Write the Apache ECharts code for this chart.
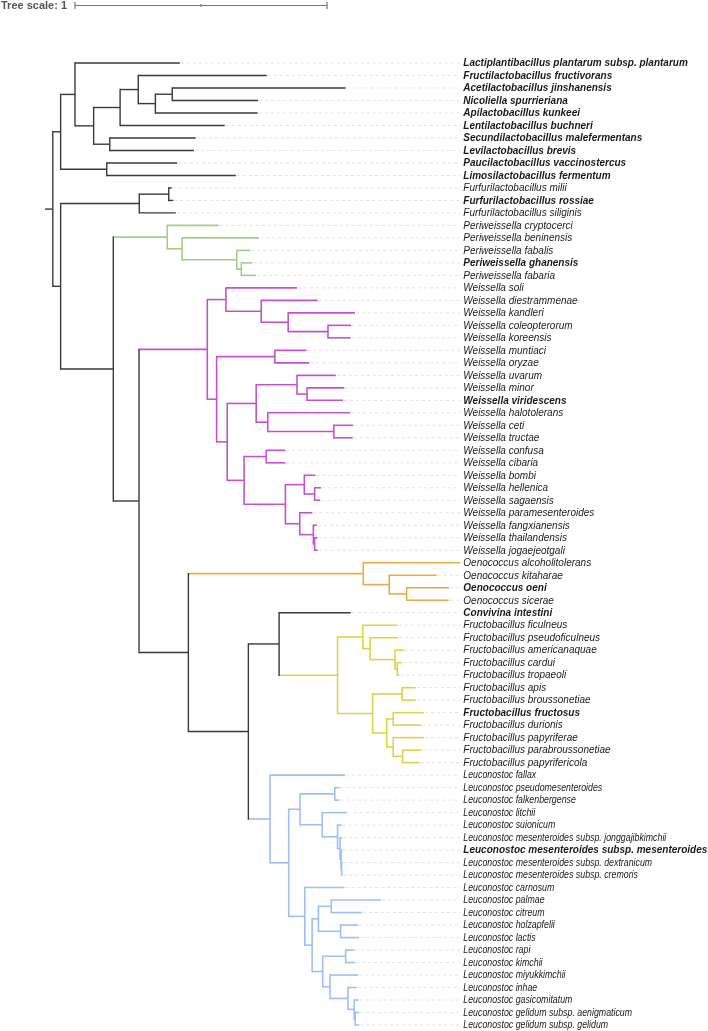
<!DOCTYPE html>
<html><head><meta charset="utf-8">
<script src="https://cdn.jsdelivr.net/npm/echarts@6/dist/echarts.min.js"></script>
<style>html,body{margin:0;padding:0;background:#fff}#c{width:708px;height:1031px}</style>
</head><body><div id="c"></div>
<script>
// ---------- data ----------
const taxa = [
 'Lactiplantibacillus plantarum subsp. plantarum','Fructilactobacillus fructivorans','Acetilactobacillus jinshanensis',
 'Nicoliella spurrieriana','Apilactobacillus kunkeei','Lentilactobacillus buchneri','Secundilactobacillus malefermentans',
 'Levilactobacillus brevis','Paucilactobacillus vaccinostercus','Limosilactobacillus fermentum','Furfurilactobacillus milii',
 'Furfurilactobacillus rossiae','Furfurilactobacillus siliginis','Periweissella cryptocerci','Periweissella beninensis',
 'Periweissella fabalis','Periweissella ghanensis','Periweissella fabaria','Weissella soli','Weissella diestrammenae',
 'Weissella kandleri','Weissella coleopterorum','Weissella koreensis','Weissella muntiaci','Weissella oryzae',
 'Weissella uvarum','Weissella minor','Weissella viridescens','Weissella halotolerans','Weissella ceti','Weissella tructae',
 'Weissella confusa','Weissella cibaria','Weissella bombi','Weissella hellenica','Weissella sagaensis',
 'Weissella paramesenteroides','Weissella fangxianensis','Weissella thailandensis','Weissella jogaejeotgali',
 'Oenococcus alcoholitolerans','Oenococcus kitaharae','Oenococcus oeni','Oenococcus sicerae','Convivina intestini',
 'Fructobacillus ficulneus','Fructobacillus pseudoficulneus','Fructobacillus americanaquae','Fructobacillus cardui',
 'Fructobacillus tropaeoli','Fructobacillus apis','Fructobacillus broussonetiae','Fructobacillus fructosus',
 'Fructobacillus durionis','Fructobacillus papyriferae','Fructobacillus parabroussonetiae','Fructobacillus papyrifericola',
 'Leuconostoc fallax','Leuconostoc pseudomesenteroides','Leuconostoc falkenbergense','Leuconostoc litchii',
 'Leuconostoc suionicum','Leuconostoc mesenteroides subsp. jonggajibkimchii','Leuconostoc mesenteroides subsp. mesenteroides',
 'Leuconostoc mesenteroides subsp. dextranicum','Leuconostoc mesenteroides subsp. cremoris','Leuconostoc carnosum',
 'Leuconostoc palmae','Leuconostoc citreum','Leuconostoc holzapfelii','Leuconostoc lactis','Leuconostoc rapi',
 'Leuconostoc kimchii','Leuconostoc miyukkimchii','Leuconostoc inhae','Leuconostoc gasicomitatum',
 'Leuconostoc gelidum subsp. aenigmaticum','Leuconostoc gelidum subsp. gelidum'
];
const boldTaxa = [
 'Lactiplantibacillus plantarum subsp. plantarum','Fructilactobacillus fructivorans','Acetilactobacillus jinshanensis',
 'Nicoliella spurrieriana','Apilactobacillus kunkeei','Lentilactobacillus buchneri','Secundilactobacillus malefermentans',
 'Levilactobacillus brevis','Paucilactobacillus vaccinostercus','Limosilactobacillus fermentum','Furfurilactobacillus rossiae',
 'Periweissella ghanensis','Weissella viridescens','Oenococcus oeni','Convivina intestini','Fructobacillus fructosus',
 'Leuconostoc mesenteroides subsp. mesenteroides'
];
// tip depth (distance from the root stub origin, tree units)
const tipDepth = [
 0.535,0.880,1.193,0.845,0.844,0.713,0.598,0.591,0.524,0.757,
 0.503,0.509,0.519,0.689,0.849,0.815,0.823,0.837,1.000,1.082,
 1.230,1.215,1.213,1.037,1.049,1.154,1.188,1.183,1.210,1.223,
 1.221,0.954,0.954,1.073,1.095,1.092,1.061,1.079,1.081,1.082,
 1.647,1.554,1.604,1.603,1.213,1.400,1.402,1.425,1.415,1.406,
 1.471,1.471,1.504,1.492,1.504,1.495,1.485,1.190,1.168,1.168,
 1.197,1.177,1.179,1.180,1.180,1.180,1.188,1.333,1.257,1.243,
 1.247,1.227,1.230,1.243,1.237,1.245,1.247,1.247
];
// internal nodes: [id, depth, child, child, colour group]  (number child = taxon index)
const clades = [
 ['root',0.031,'A','M',null],
 ['A',0.062,'A1','A2',null],['A1',0.119,0,'A1b',null],['A1b',0.193,'A1c','A1d',null],
 ['A1c',0.298,'A1e',5,null],['A1e',0.370,1,'A1f',null],['A1f',0.438,'A1g',4,null],['A1g',0.505,2,3,null],
 ['A1d',0.257,6,7,null],['A2',0.245,8,9,null],
 ['M',0.062,'FF','B',null],['FF',0.374,'FF1',12,null],['FF1',0.491,10,11,null],
 ['B',0.271,'P','C',null],
 ['P',0.485,13,'P1','green'],['P1',0.544,14,'P2',null],['P2',0.761,15,'P3',null],['P3',0.779,16,17,null],
 ['C',0.373,'W','D',null],
 ['W',0.644,'W1','W2','purple'],['W1',0.718,18,'W1a',null],['W1a',0.858,19,'W1b',null],['W1b',0.965,20,'W1c',null],
 ['W1c',1.123,21,22,null],['W2',0.681,'W2a','W2b',null],['W2a',0.912,23,24,null],['W2b',0.723,'W3','W4',null],
 ['W3',0.838,'W3a','W3b',null],['W3a',1.000,25,'W3c',null],['W3c',1.040,26,27,null],['W3b',0.884,28,'W3d',null],
 ['W3d',1.146,29,30,null],['W4',0.790,'W4a','W4b',null],['W4a',0.878,31,32,null],['W4b',0.954,'W5','W6',null],
 ['W5',1.029,33,'W5a',null],['W5a',1.070,34,35,null],['W6',1.011,36,'W6a',null],['W6a',1.065,37,'W6b',null],
 ['W6b',1.070,38,39,null],
 ['D',0.569,'O','E',null],
 ['O',1.263,40,'O1','orange'],['O1',1.366,41,'O2',null],['O2',1.435,42,43,null],
 ['E',0.807,'E1','L',null],['E1',0.929,44,'F',null],
 ['F',1.161,'F1','F2','yellow'],['F1',1.261,45,'F1a',null],['F1a',1.290,46,'F1b',null],['F1b',1.389,47,'F1c',null],
 ['F1c',1.398,48,49,null],['F2',1.300,'F2a','F2b',null],['F2a',1.417,50,51,null],['F2b',1.356,'F2c','F2d',null],
 ['F2c',1.382,52,53,null],['F2d',1.382,54,'F2e',null],['F2e',1.419,55,56,null],
 ['L',0.893,57,'L1','blue'],['L1',0.967,'L2','L5',null],['L2',1.012,'L2a','L2b',null],['L2a',1.150,58,59,null],
 ['L2b',1.100,60,'L3',null],['L3',1.161,61,'L4',null],['L4',1.171,62,'L4a',null],['L4a',1.175,63,'L4b',null],
 ['L4b',1.177,64,65,null],['L5',1.031,66,'L6',null],['L6',1.060,'L7','L8',null],['L7',1.085,'L7a','L7b',null],
 ['L7a',1.136,67,68,null],['L7b',1.173,69,70,null],['L8',1.102,'L8a','L8b',null],['L8a',1.193,71,72,null],
 ['L8b',1.131,73,'L8c',null],['L8c',1.202,74,'L8d',null],['L8d',1.227,75,'L8e',null],['L8e',1.231,76,77,null]
];
const groupColors = {black:'#3a3a3a', green:'#a3cd86', purple:'#c452cf', orange:'#eaac46', yellow:'#d8d54a', blue:'#9fbdf7'};
const scaleBar = {start: 0.119, length: 1, label: 'Tree scale: 1'};
const labelDepth = 1.66;

// ---------- build segments ----------
const cladeMap = {};
clades.forEach(c => cladeMap[c[0]] = c);
const segs = [];   // [x1,y1,x2,y2,colorKey]
const tips = [];   // [tipX, index]
const tipGroup = {};
function walk(node, parentX, colorKey) {
  if (typeof node === 'number') {
    const x = tipDepth[node];
    segs.push([parentX, node, x, node, colorKey]);
    tips.push([x, node]);
    tipGroup[node] = colorKey;
    return node;
  }
  const c = cladeMap[node];
  const col = c[4] || colorKey;
  const x = c[1];
  const y1 = walk(c[2], x, col);
  const y2 = walk(c[3], x, col);
  const y = (y1 + y2) / 2;
  segs.push([x, y1, x, y2, col]);
  segs.push([parentX, y, x, y, col]);
  return y;
}
walk('root', 0, 'black');

const chart = echarts.init(document.getElementById('c'), null, {renderer: 'canvas'});
chart.setOption({
  animation: false,
  grid: {left: 45, top: 63, width: 630, height: 962},
  xAxis: {type: 'value', min: 0, max: 2.5, show: false},
  yAxis: {type: 'value', min: 0, max: taxa.length - 1, inverse: true, show: false},
  series: [
    {
      type: 'custom', data: tips, clip: false, silent: true,
      renderItem: (params, api) => {
        const i = api.value(1);
        const p0 = api.coord([api.value(0), i]);
        const pl = api.coord([labelDepth, i]);
        const name = taxa[i];
        const bold = boldTaxa.includes(name);
        const squeeze = (!bold && tipGroup[i] === 'blue') ? 0.88 : 1;
        return {type: 'group', children: [
          {type: 'line', shape: {x1: p0[0] + 1, y1: p0[1], x2: pl[0] - 3, y2: p0[1]},
           style: {stroke: '#e2e2e2', lineWidth: 1, lineDash: [3, 3]}},
          {type: 'text', x: pl[0], y: p0[1] + 0.5, scaleX: squeeze,
           style: {text: name, fill: '#1a1a1a', fontSize: 10, fontStyle: 'italic',
                   fontWeight: bold ? 'bold' : 'normal', fontFamily: 'Liberation Sans, Arial, sans-serif',
                   verticalAlign: 'middle', align: 'left'}}
        ]};
      }
    },
    {
      type: 'custom', data: segs, clip: false, silent: true,
      renderItem: (params, api) => {
        const a = api.coord([api.value(0), api.value(1)]);
        const b = api.coord([api.value(2), api.value(3)]);
        const key = segs[params.dataIndex][4];
        const isV = Math.abs(a[0] - b[0]) < 0.01;
        const ext = isV ? 0.7 : 0;
        return {type: 'line',
          shape: {x1: a[0], y1: a[1] - ext, x2: b[0], y2: b[1] + ext},
          style: {stroke: groupColors[key], lineWidth: key === 'black' ? 1.4 : 1.6}};
      }
    },
    {
      type: 'custom', data: [[scaleBar.start, scaleBar.length]], clip: false, silent: true,
      renderItem: (params, api) => {
        const s = api.coord([api.value(0), 0]);
        const e = api.coord([api.value(0) + api.value(1), 0]);
        const m = (s[0] + e[0]) / 2;
        const y = 5.5;
        const st = {stroke: '#777', lineWidth: 1.2};
        return {type: 'group', children: [
          {type: 'line', shape: {x1: s[0], y1: y, x2: e[0], y2: y}, style: st},
          {type: 'line', shape: {x1: s[0], y1: y - 3.5, x2: s[0], y2: y + 3.5}, style: st},
          {type: 'line', shape: {x1: e[0], y1: y - 3.5, x2: e[0], y2: y + 3.5}, style: st},
          {type: 'line', shape: {x1: m, y1: y - 1.5, x2: m, y2: y + 1.5}, style: st},
          {type: 'text', x: 1, y: y, style: {text: scaleBar.label, fill: '#555', fontSize: 11,
            fontWeight: 'bold', fontFamily: 'Liberation Sans, Arial, sans-serif', align: 'left', verticalAlign: 'middle'}}
        ]};
      }
    }
  ]
});
</script></body></html>
